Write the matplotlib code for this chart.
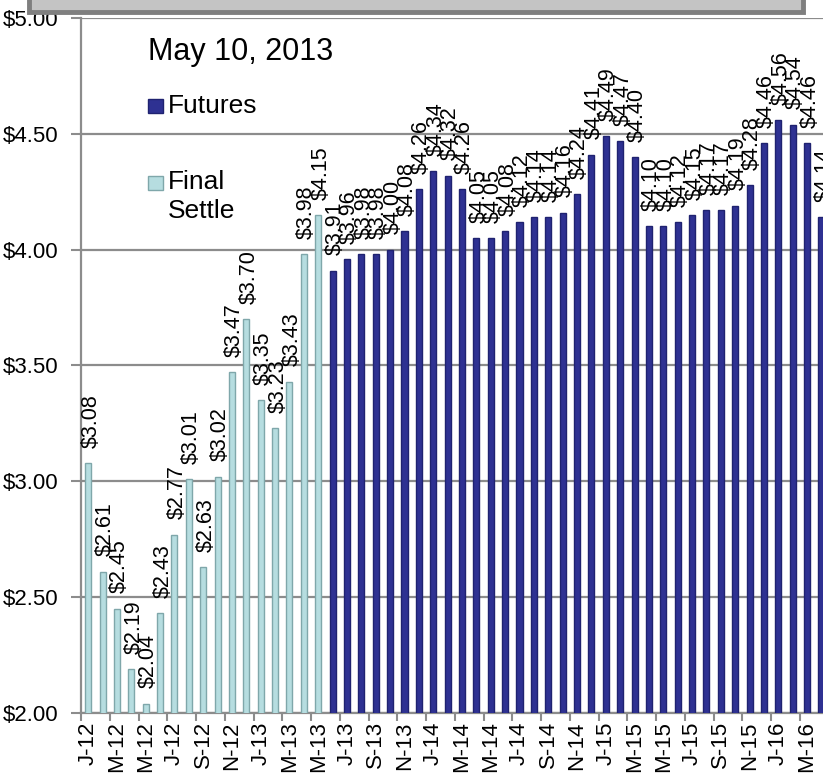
import numpy as np
import matplotlib.pyplot as plt
from matplotlib.patches import Rectangle

plt.rcParams['font.family'] = ['Liberation Sans', 'DejaVu Sans']

# month labels, Jan 2012 .. May 2016
months = ['J-12', 'F-12', 'M-12', 'A-12', 'M-12', 'J-12', 'J-12', 'A-12', 'S-12', 'O-12', 'N-12', 'D-12',
          'J-13', 'F-13', 'M-13', 'A-13', 'M-13', 'J-13', 'J-13', 'A-13', 'S-13', 'O-13', 'N-13', 'D-13',
          'J-14', 'F-14', 'M-14', 'A-14', 'M-14', 'J-14', 'J-14', 'A-14', 'S-14', 'O-14', 'N-14', 'D-14',
          'J-15', 'F-15', 'M-15', 'A-15', 'M-15', 'J-15', 'J-15', 'A-15', 'S-15', 'O-15', 'N-15', 'D-15',
          'J-16', 'F-16', 'M-16', 'A-16', 'M-16']

final_settle = [3.08, 2.61, 2.45, 2.19, 2.04, 2.43, 2.77, 3.01, 2.63, 3.02, 3.47, 3.70,
                3.35, 3.23, 3.43, 3.98, 4.15]
futures = [3.91, 3.96, 3.98, 3.98, 4.00, 4.08, 4.26, 4.34, 4.32, 4.26, 4.05, 4.05,
           4.08, 4.12, 4.14, 4.14, 4.16, 4.24, 4.41, 4.49, 4.47, 4.40, 4.10, 4.10,
           4.12, 4.15, 4.17, 4.17, 4.19, 4.28, 4.46, 4.56, 4.54, 4.46, 4.14]

title = 'May 10, 2013'
series_names = ['Futures', 'Final\nSettle']

c_fut, e_fut = '#2e3192', '#1f2270'
c_fin, e_fin = '#b6dde0', '#7fa7aa'

fig = plt.figure(figsize=(8.23, 7.76), dpi=100)
W, H = 823, 776
# axes run past the right edge of the picture, as in the original crop
ax = fig.add_axes([81 / W, 1 - 713 / H, 762 / W, 695 / H])

x_fin = np.arange(len(final_settle))
x_fut = np.arange(len(final_settle), len(final_settle) + len(futures))

ax.bar(x_fin, final_settle, width=0.42, color=c_fin, edgecolor=e_fin, linewidth=1, zorder=3)
ax.bar(x_fut, futures, width=0.42, color=c_fut, edgecolor=e_fut, linewidth=1, zorder=3)

for xs, vals in ((x_fin, final_settle), (x_fut, futures)):
    for xi, v in zip(xs, vals):
        ax.annotate('${:.2f}'.format(v), (xi, v), xytext=(2, 11), textcoords='offset points',
                    rotation=90, ha='center', va='bottom', fontsize=15.5, color='black',
                    annotation_clip=False, zorder=4)

ax.set_ylim(2.0, 5.0)
ax.set_xlim(-0.5, len(months) - 0.5)
yt = np.arange(2.0, 5.01, 0.5)
ax.set_yticks(yt)
ax.set_yticklabels(['${:.2f}'.format(v) for v in yt], fontsize=16)
ax.yaxis.grid(True, color='#8c8c8c', linewidth=1.6, zorder=0)
ax.tick_params(axis='y', length=7, width=1.5, color='#8c8c8c', pad=9)

# tick marks at category boundaries every 2 months, labels centred on every second bar
ax.set_xticks(np.arange(-0.5, len(months), 2))
ax.set_xticklabels([])
ax.set_xticks(np.arange(0, len(months), 2), minor=True)
ax.set_xticklabels(months[::2], minor=True, rotation=90, fontsize=16)
ax.tick_params(axis='x', which='major', length=6, width=1.5, color='#8c8c8c')
ax.tick_params(axis='x', which='minor', length=0, pad=6)

for s in ('top', 'right'):
    ax.spines[s].set_visible(False)
for s in ('left', 'bottom'):
    ax.spines[s].set_color('#8c8c8c')
    ax.spines[s].set_linewidth(1.6)

# title and legend
fig.text(148 / W, 1 - 52 / H, title, fontsize=22, ha='left', va='center')
fig.patches.append(Rectangle((148 / W, 1 - 113 / H), 15 / W, 14 / H, transform=fig.transFigure,
                             facecolor=c_fut, edgecolor=e_fut, linewidth=1))
fig.text(168 / W, 1 - 106 / H, series_names[0], fontsize=19, ha='left', va='center')
fig.patches.append(Rectangle((148 / W, 1 - 190 / H), 15 / W, 14 / H, transform=fig.transFigure,
                             facecolor=c_fin, edgecolor=e_fin, linewidth=1))
fig.text(168 / W, 1 - 170 / H, series_names[1], fontsize=19, ha='left', va='top', linespacing=1.25)

# grey frame of the panel above, cut off at the top
fig.patches.append(Rectangle((29 / W, 1 - 12 / H), 774 / W, 30 / H, transform=fig.transFigure,
                             facecolor='#c4c4c4', edgecolor='#7f7f7f', linewidth=3.5))

fig.savefig('out.png', dpi=100)
